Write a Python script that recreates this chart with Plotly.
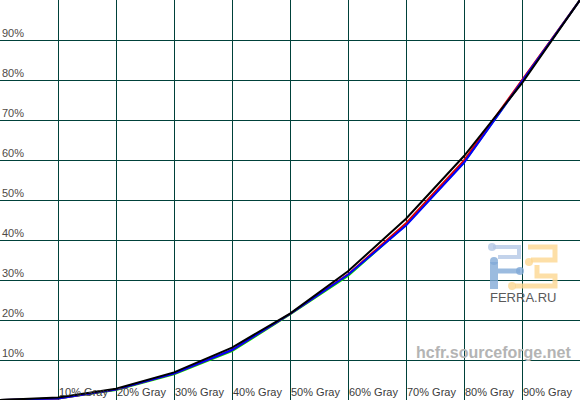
import plotly.graph_objects as go

gray_levels = [0, 10, 20, 30, 40, 50, 60, 70, 80, 90, 100]
x_tick_vals = [10, 20, 30, 40, 50, 60, 70, 80, 90]
x_tick_text = ["10% Gray", "20% Gray", "30% Gray", "40% Gray", "50% Gray",
               "60% Gray", "70% Gray", "80% Gray", "90% Gray"]
y_tick_vals = [10, 20, 30, 40, 50, 60, 70, 80, 90]
y_tick_text = ["10%", "20%", "30%", "40%", "50%", "60%", "70%", "80%", "90%"]

green_vals = [0, 0.4, 2.5, 6.4, 12.2, 21.4, 31.0, 43.8, 59.4, 79.6, 100]
red_vals = [0, 0.4, 2.6, 6.6, 12.5, 21.5, 31.4, 44.2, 59.9, 79.8, 100]
blue_vals = [0, 0.4, 2.6, 6.6, 12.5, 21.5, 31.3, 43.6, 59.3, 79.6, 100]
black_vals = [0, 0.6, 2.8, 6.9, 13.1, 21.6, 32.2, 45.3, 61.0, 79.2, 100]

series = [
    ("Green", green_vals, "#00e000"),
    ("Red", red_vals, "#e00000"),
    ("Blue", blue_vals, "#0000ff"),
    ("Reference", black_vals, "#000000"),
]

fig = go.Figure()
for name, vals, col in series:
    fig.add_trace(go.Scatter(x=gray_levels, y=vals, mode="lines", name=name,
                             line=dict(color=col, width=2)))

grid_col = "#00413a"
font_fam = "Liberation Sans, Arial, sans-serif"
fig.update_layout(
    width=580, height=400,
    margin=dict(l=0, r=0, t=0, b=0, pad=0),
    paper_bgcolor="white", plot_bgcolor="white",
    showlegend=False,
    font=dict(family=font_fam, size=11, color="#4a4a4a"),
)
fig.update_xaxes(range=[0, 100], tickvals=x_tick_vals, showticklabels=False,
                 ticks="", automargin=False,
                 showgrid=True, gridcolor=grid_col, gridwidth=1,
                 zeroline=False, showline=False, fixedrange=True)
fig.update_yaxes(range=[0, 100], tickvals=y_tick_vals, showticklabels=False,
                 ticks="", automargin=False,
                 showgrid=True, gridcolor=grid_col, gridwidth=1,
                 zeroline=False, showline=True, linecolor=grid_col, linewidth=2,
                 fixedrange=True)

# Tick labels placed inside the plot, as in the reference
for v, t in zip(x_tick_vals, x_tick_text):
    fig.add_annotation(x=v, y=0, xref="x", yref="paper", text=t, showarrow=False,
                       xanchor="left", yanchor="bottom", xshift=0, yshift=1,
                       borderpad=0, font=dict(family=font_fam, size=11, color="#3c3c3c"))
for v, t in zip(y_tick_vals, y_tick_text):
    fig.add_annotation(x=0, y=v, xref="paper", yref="y", text=t, showarrow=False,
                       xanchor="left", yanchor="bottom", xshift=1, yshift=0,
                       borderpad=0, font=dict(family=font_fam, size=11, color="#4f4a46"))

def px(x):
    return x / 580.0

def py(y):
    return 1 - y / 400.0

# Watermark text
fig.add_annotation(x=px(493), y=py(352), xref="paper", yref="paper",
                   xanchor="center", yanchor="middle",
                   text="<b>hcfr.sourceforge.net</b>", showarrow=False,
                   font=dict(family=font_fam, size=16, color="#b4b4b4"))
fig.add_annotation(x=px(523), y=py(297.5), xref="paper", yref="paper",
                   xanchor="center", yanchor="middle",
                   text="FERRA.RU", showarrow=False,
                   font=dict(family=font_fam, size=13, color="#5a5a5a"))

# FERRA logo (approximate)
blue_c = "rgba(130,170,215,0.8)"
blue_l = "rgba(180,200,230,0.8)"
yel_c = "rgba(252,215,145,0.8)"
def path(points):
    return "M " + " L ".join(f"{px(a)},{py(b)}" for a, b in points)

shapes = [
    dict(type="path", path=path([(493, 247), (519, 247), (519, 257), (498, 257)]), line=dict(color=blue_l, width=4)),
    dict(type="path", path=path([(494, 262), (494, 289)]), line=dict(color=blue_c, width=8)),
    dict(type="path", path=path([(498, 271), (520, 271)]), line=dict(color=blue_c, width=5)),
    dict(type="path", path=path([(528, 247), (555, 247), (555, 260), (531, 260)]), line=dict(color=yel_c, width=5)),
    dict(type="path", path=path([(537, 265), (537, 276), (555, 276), (555, 286), (515, 286)]), line=dict(color=yel_c, width=5)),
]
for cx, cy, c in [(492, 247, blue_l), (494, 261, blue_c), (520, 271, blue_c), (529, 262, yel_c), (512, 286, yel_c)]:
    shapes.append(dict(type="circle", x0=px(cx - 4), x1=px(cx + 4), y0=py(cy + 4), y1=py(cy - 4),
                       fillcolor=c, line=dict(width=0)))
for s in shapes:
    s["xref"] = "paper"
    s["yref"] = "paper"
    s["layer"] = "above"
    fig.add_shape(**s)

fig.write_html("out.html", config={"displayModeBar": False},
               post_script="document.body.style.margin='0';document.body.style.padding='0';")
